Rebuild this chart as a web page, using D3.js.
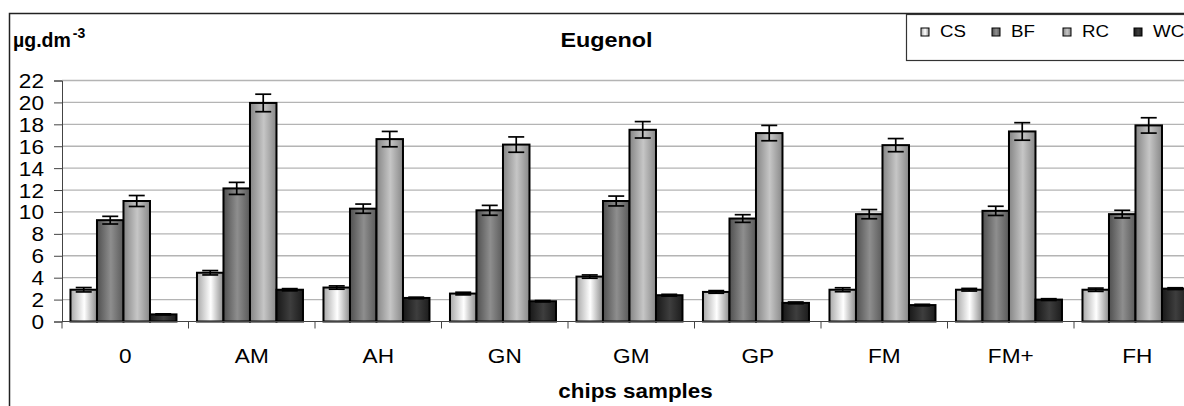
<!DOCTYPE html>
<html>
<head>
<meta charset="utf-8">
<script src="https://cdn.jsdelivr.net/npm/d3@7"></script>
<style>
  body { margin: 0; background: #fff; }
  svg { display: block; font-family: Arial, "Liberation Sans", sans-serif; }
</style>
</head>
<body>
<div id="chart"></div>
<script>
// data
var categories = ["0", "AM", "AH", "GN", "GM", "GP", "FM", "FM+", "FH"];
var series = ["CS", "BF", "RC", "WC"];
var csValues = [2.9, 4.45, 3.1, 2.55, 4.1, 2.7, 2.9, 2.9, 2.9];
var bfValues = [9.25, 12.15, 10.3, 10.15, 11.0, 9.4, 9.8, 10.1, 9.8];
var rcValues = [11.0, 19.95, 16.65, 16.15, 17.5, 17.2, 16.1, 17.35, 17.9];
var wcValues = [0.65, 2.9, 2.15, 1.85, 2.4, 1.7, 1.5, 2.0, 3.0];
var csErrors = [0.2, 0.2, 0.15, 0.12, 0.15, 0.12, 0.18, 0.12, 0.15];
var bfErrors = [0.35, 0.55, 0.42, 0.45, 0.45, 0.35, 0.42, 0.42, 0.35];
var rcErrors = [0.5, 0.8, 0.7, 0.7, 0.75, 0.7, 0.6, 0.8, 0.7];
var wcErrors = [0.05, 0.1, 0.07, 0.06, 0.08, 0.08, 0.07, 0.08, 0.08];
var yTicks = [0, 2, 4, 6, 8, 10, 12, 14, 16, 18, 20, 22];

var values = {CS: csValues, BF: bfValues, RC: rcValues, WC: wcValues};
var errors = {CS: csErrors, BF: bfErrors, RC: rcErrors, WC: wcErrors};

// gradient colours per series (edge, light, edge)
var shades = {
    CS: ["#a8a8a8", "#ffffff", "#8c8c8c"],
    BF: ["#505050", "#8e8e8e", "#5a5a5a"],
    RC: ["#858585", "#c6c6c6", "#888888"],
    WC: ["#181818", "#3e3e3e", "#1c1c1c"]
};

var w = 1184, h = 406;
var plotLeft = 62, plotRight = 1200.5, plotTop = 80.5, plotBottom = 321.5;
var stretch = 1.16;

var svg = d3.select("#chart").append("svg")
    .attr("width", w)
    .attr("height", h);

var defs = svg.append("defs");
series.forEach(function (s) {
    var g = defs.append("linearGradient")
        .attr("id", "grad" + s)
        .attr("x1", 0).attr("x2", 1).attr("y1", 0).attr("y2", 0);
    g.append("stop").attr("offset", "0%").attr("stop-color", shades[s][0]);
    g.append("stop").attr("offset", "52%").attr("stop-color", shades[s][1]);
    g.append("stop").attr("offset", "100%").attr("stop-color", shades[s][2]);
});

// helper for the slightly wide excel text
function label(x, y, txt, size, weight, anchor, sx) {
    return svg.append("text")
        .attr("transform", "translate(" + x + "," + y + ") scale(" + (sx || stretch) + ",1)")
        .style("font-size", size + "px")
        .style("font-weight", weight)
        .style("text-anchor", anchor)
        .style("fill", "#000")
        .text(txt);
}

// outer frame
svg.append("path")
    .attr("d", "M9.5," + h + " V13.5 H" + w)
    .style("fill", "none")
    .style("stroke", "#222")
    .style("stroke-width", 1.5);

var x0 = d3.scaleBand().domain(categories).range([plotLeft, plotRight]);
var x1 = d3.scaleBand().domain(series)
    .range([x0.bandwidth() * 0.067, x0.bandwidth() * 0.905]);
var y = d3.scaleLinear().domain([0, 22]).range([plotBottom, plotTop]);

// gridlines
svg.append("g").selectAll("line")
    .data(yTicks.filter(function (d) { return d > 0; }))
    .enter().append("line")
    .attr("x1", plotLeft).attr("x2", plotRight)
    .attr("y1", function (d) { return y(d); })
    .attr("y2", function (d) { return y(d); })
    .style("stroke", "#b4b4b4")
    .style("stroke-width", 1.3);

// y axis
var yAxis = svg.append("g")
    .attr("transform", "translate(" + plotLeft + ",0)")
    .call(d3.axisLeft(y).tickValues(yTicks).tickSize(8).tickFormat(d3.format("d")));
yAxis.select(".domain").style("stroke", "#444");
yAxis.selectAll(".tick line").style("stroke", "#444");
yAxis.selectAll(".tick text")
    .attr("x", null)
    .attr("dy", "0.36em")
    .attr("transform", "translate(-18,0) scale(" + stretch + ",1)")
    .style("font-size", "19.5px")
    .style("font-family", "Arial, 'Liberation Sans', sans-serif")
    .style("fill", "#000");

// bars
var groups = svg.append("g").selectAll("g")
    .data(categories)
    .enter().append("g")
    .attr("transform", function (d) { return "translate(" + x0(d) + ",0)"; });

function rows(d, i) {
    return series.map(function (s) { return {s: s, v: values[s][i], e: errors[s][i]}; });
}

groups.selectAll("rect")
    .data(rows)
    .enter().append("rect")
    .attr("x", function (d) { return x1(d.s); })
    .attr("y", function (d) { return y(d.v); })
    .attr("width", x1.bandwidth())
    .attr("height", function (d) { return y(0) - y(d.v); })
    .style("fill", function (d) { return "url(#grad" + d.s + ")"; })
    .style("stroke", "#000")
    .style("stroke-width", 2);

// error bars
var err = groups.selectAll("g.err")
    .data(rows)
    .enter().append("g")
    .attr("class", "err")
    .style("stroke", "#000")
    .style("stroke-width", 1.7);
err.append("line")
    .attr("x1", function (d) { return x1(d.s) + x1.bandwidth() / 2; })
    .attr("x2", function (d) { return x1(d.s) + x1.bandwidth() / 2; })
    .attr("y1", function (d) { return y(d.v - d.e); })
    .attr("y2", function (d) { return y(d.v + d.e); });
[-1, 1].forEach(function (sign) {
    err.append("line")
        .attr("x1", function (d) { return x1(d.s) + x1.bandwidth() / 2 - 8; })
        .attr("x2", function (d) { return x1(d.s) + x1.bandwidth() / 2 + 8; })
        .attr("y1", function (d) { return y(d.v + sign * d.e); })
        .attr("y2", function (d) { return y(d.v + sign * d.e); });
});

// x axis
svg.append("line")
    .attr("x1", plotLeft).attr("x2", plotRight)
    .attr("y1", plotBottom).attr("y2", plotBottom)
    .style("stroke", "#444").style("stroke-width", 1.2);
svg.append("g").selectAll("line")
    .data(categories.concat(["end"]))
    .enter().append("line")
    .attr("x1", function (d, i) { return plotLeft + i * x0.step(); })
    .attr("x2", function (d, i) { return plotLeft + i * x0.step(); })
    .attr("y1", plotBottom).attr("y2", plotBottom + 7)
    .style("stroke", "#444");
categories.forEach(function (c) {
    label(x0(c) + x0.bandwidth() / 2, 363, c, 19.5, "normal", "middle");
});

// titles
label(606.5, 47, "Eugenol", 20, "bold", "middle", 1.17);
label(635.5, 398, "chips samples", 19.5, "bold", "middle", 1.15);
var unit = svg.append("text")
    .attr("x", 13).attr("y", 47)
    .style("font-size", "19.5px")
    .style("font-weight", "bold");
unit.append("tspan").text("µg.dm");
unit.append("tspan").attr("dx", 2).attr("dy", -9).style("font-size", "14px").text("-3");

// legend
svg.append("rect")
    .attr("x", 906.5).attr("y", 14.5)
    .attr("width", 300).attr("height", 46)
    .style("fill", "#fff")
    .style("stroke", "#333")
    .style("stroke-width", 1.2);
series.forEach(function (s, i) {
    var lx = 921 + i * 71;
    svg.append("rect")
        .attr("x", lx).attr("y", 28)
        .attr("width", 8).attr("height", 8)
        .style("fill", "url(#grad" + s + ")")
        .style("stroke", "#000")
        .style("stroke-width", 1);
    label(lx + 19, 37, s, 17, "normal", "start", 1.1);
});
</script>
</body>
</html>
